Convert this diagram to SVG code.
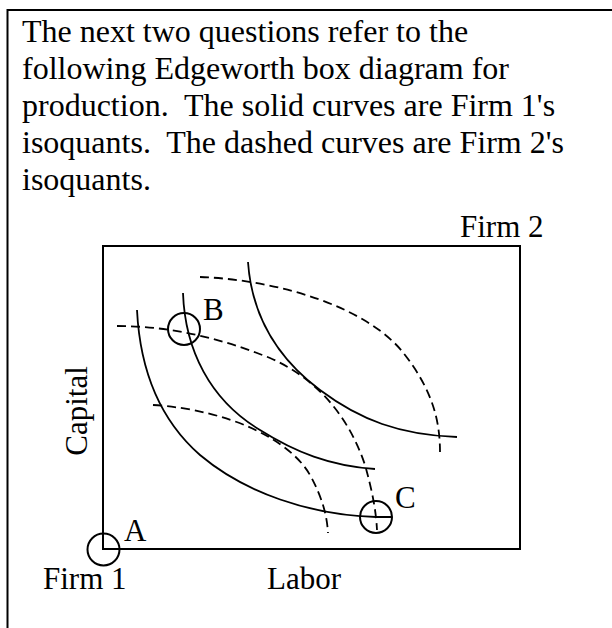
<svg xmlns="http://www.w3.org/2000/svg" width="612" height="628" viewBox="0 0 612 628">
  <style>
    .txt { font-family: "Liberation Serif", "Times New Roman", serif; font-size: 32px; fill: #000; white-space: pre; }
    .lbl { font-family: "Liberation Serif", "Times New Roman", serif; font-size: 31px; fill: #000; }
    .frame { fill: none; stroke: #000; stroke-width: 2; }
    .solid { fill: none; stroke: #000; stroke-width: 1.8; }
    .dash { fill: none; stroke: #000; stroke-width: 1.8; stroke-dasharray: 9 5; }
    .mark { fill: none; stroke: #000; stroke-width: 2; }
  </style>
  <rect width="612" height="628" fill="#fff"/>
  <g id="border">
    <path class="frame" d="M7.5,628 L7.5,10 L612,10"/>
  </g>
  <g id="question">
    <text class="txt" x="22" y="42" xml:space="preserve">The next two questions refer to the</text>
    <text class="txt" x="22" y="79" xml:space="preserve">following Edgeworth box diagram for</text>
    <text class="txt" x="22" y="116" xml:space="preserve">production.  The solid curves are Firm 1's</text>
    <text class="txt" x="22" y="153" xml:space="preserve">isoquants.  The dashed curves are Firm 2's</text>
    <text class="txt" x="22" y="190" xml:space="preserve">isoquants.</text>
  </g>
  <g id="box">
    <rect class="frame" x="103" y="246" width="417" height="303"/>
  </g>
  <g id="axis-labels">
    <text class="lbl" x="460" y="237">Firm 2</text>
    <text class="lbl" x="43" y="589">Firm 1</text>
    <text class="lbl" x="267" y="589">Labor</text>
    <text class="lbl" transform="translate(87,411) rotate(-90)" text-anchor="middle">Capital</text>
  </g>
  <g id="connectors">
    <g id="firm1-isoquants">
      <path class="solid" d="M137,310 C140,370 160,420 200,455 C245,493 310,515 376,517 L392,517"/>
      <path class="solid" d="M183,293 C185,350 210,400 260,430 C295,452 330,466 375,469"/>
      <path class="solid" d="M248,262 C252,320 280,360 320,390 C360,420 400,435 457,437"/>
    </g>
    <g id="firm2-isoquants">
      <path class="dash" d="M153,405 C230,410 290,440 310,475 C322,497 327,515 328,533"/>
      <path class="dash" d="M117,326 C170,326 220,338 270,358 C320,380 350,420 365,465 C372,490 376,510 377,530"/>
      <path class="dash" d="M200,277 C280,280 370,308 405,355 C432,390 440,420 440,452"/>
    </g>
  </g>
  <g id="point-A">
    <circle class="mark" cx="103.5" cy="549.5" r="16"/>
    <text class="lbl" x="124" y="541">A</text>
  </g>
  <g id="point-B">
    <circle class="mark" cx="184" cy="329" r="16"/>
    <text class="lbl" x="203" y="320">B</text>
  </g>
  <g id="point-C">
    <circle class="mark" cx="376" cy="517" r="16"/>
    <text class="lbl" x="395" y="508">C</text>
  </g>
</svg>
